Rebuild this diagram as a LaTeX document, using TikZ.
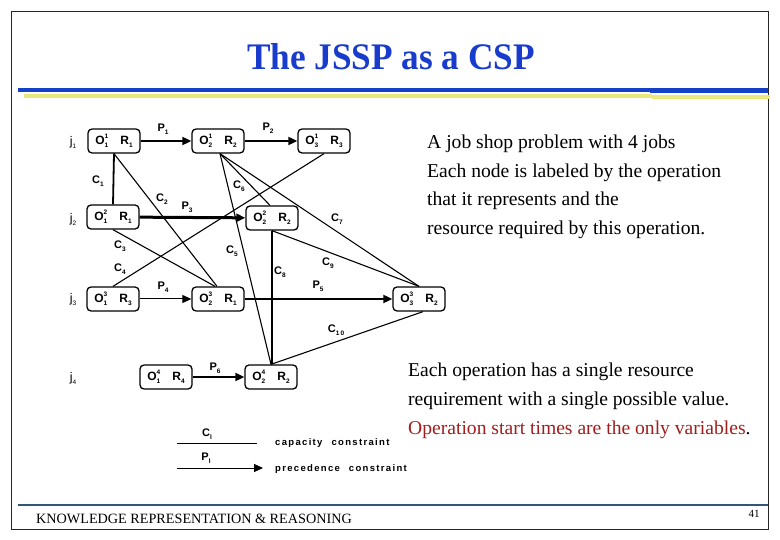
\documentclass[tikz,border=0pt]{standalone}
\usepackage{fontspec}
\setmainfont{Liberation Serif}
\setsansfont{Liberation Sans}
\usetikzlibrary{arrows.meta}
\definecolor{titleblue}{RGB}{25,60,205}
\definecolor{ruleblue}{RGB}{20,65,200}
\definecolor{ruleyellow}{RGB}{232,232,125}
\definecolor{footblue}{RGB}{52,85,122}
\definecolor{darkred}{RGB}{160,30,30}
\newcommand{\opO}[2]{O\makebox[0pt][l]{\raisebox{6pt}{\fontsize{6.5}{6.5}\selectfont #1}}\raisebox{-3pt}{\fontsize{6.5}{6.5}\selectfont #2}}
\newcommand{\resR}[1]{R\raisebox{-3pt}{\fontsize{6.5}{6.5}\selectfont #1}}
\newcommand{\lbl}[2]{#1\raisebox{-3pt}{\fontsize{6.5}{6.5}\selectfont #2}}
\begin{document}
\begin{tikzpicture}[x=1pt,y=-1pt,
  opbox/.style={draw, line width=1.3pt, rounded corners=4pt, minimum width=52pt,
    minimum height=24pt, inner sep=0pt, font=\fontsize{12}{13}\sffamily\bfseries},
  jlab/.style={font=\fontsize{12.5}{13}\sffamily, inner sep=0pt},
  elab/.style={font=\fontsize{11}{12}\sffamily\bfseries, inner sep=0pt},
  capline/.style={line width=1.1pt},
  prec/.style={-{Triangle[length=9pt,width=8pt]}, line width=1.8pt},
  legtxt/.style={font=\fontsize{9.5}{11}\sffamily\bfseries\addfontfeature{LetterSpace=14}, inner sep=0pt, anchor=base west},
  bodytxt/.style={font=\fontsize{19.6}{22}\selectfont, inner sep=0pt, anchor=base west}
]
\useasboundingbox (0,0) rectangle (780,540);
\fill[white] (0,0) rectangle (780,540);
\draw[line width=0.8pt, black!85] (11,11) rectangle (768,529);

% title and rules
\node[font=\fontsize{37.5}{40}\bfseries, text=titleblue, anchor=base, inner sep=0pt] (title) at (391,70) {\scalebox{0.94}[1]{The JSSP as a CSP}};
\fill[ruleblue] (18,88) rectangle (650,92);
\fill[ruleblue] (650,88.5) rectangle (768,93.5);
\fill[ruleyellow] (24,94) rectangle (652,98);
\fill[ruleyellow] (652,95.5) rectangle (770,99.5);

% nodes
\node[opbox] (o11) at (114,141) {\opO11\hspace{12pt}\resR1};
\node[opbox] (o21) at (218,141) {\opO12\hspace{12pt}\resR2};
\node[opbox] (o31) at (324,141) {\opO13\hspace{12pt}\resR3};
\node[opbox] (o12) at (113,217) {\opO21\hspace{12pt}\resR1};
\node[opbox] (o22) at (272,218) {\opO22\hspace{12pt}\resR2};
\node[opbox] (o13) at (113,299) {\opO31\hspace{12pt}\resR3};
\node[opbox] (o23) at (218,299) {\opO32\hspace{12pt}\resR1};
\node[opbox] (o33) at (419,299) {\opO33\hspace{12pt}\resR2};
\node[opbox] (o14) at (166,377) {\opO41\hspace{12pt}\resR4};
\node[opbox] (o24) at (271,377) {\opO42\hspace{12pt}\resR2};

% job labels
\node[jlab] (j1) at (73,142) {\lbl{j}{1}};
\node[jlab] (j2) at (73,219) {\lbl{j}{2}};
\node[jlab] (j3) at (73,300) {\lbl{j}{3}};
\node[jlab] (j4) at (73,378) {\lbl{j}{4}};

% precedence constraints
\draw[prec] (o11) -- (o21);
\draw[prec] (o21) -- (o31);
\draw[prec, line width=3pt] (o12) -- (o22);
\draw[prec, line width=1pt] (o13) -- (o23);
\draw[prec] (o23) -- (o33);
\draw[prec] (o14) -- (o24);
\node[elab] (p1) at (163,129) {\lbl{P}{1}};
\node[elab] (p2) at (268,128) {\lbl{P}{2}};
\node[elab] (p3) at (187,207) {\lbl{P}{3}};
\node[elab] (p4) at (163,287) {\lbl{P}{4}};
\node[elab] (p5) at (318,286) {\lbl{P}{5}};
\node[elab] (p6) at (215,368) {\lbl{P}{6}};

% capacity constraints
\draw[capline, line width=1.8pt] (o11.south) -- (o12.north);
\draw[capline] (o11.south) -- ([xshift=-1pt]o23.north);
\draw[capline] (o12.south) -- ([xshift=-3pt]o23.north);
\draw[capline] (o13.north) -- (o31.south);
\draw[capline] ([xshift=2pt]o21.south) -- (o24.north);
\draw[capline] ([xshift=2pt]o21.south) -- ([xshift=-2pt]o22.north);
\draw[capline] ([xshift=2pt]o21.south) -- (o33.north);
\draw[capline] (o22.south) -- (o22.south |- o24.north);
\draw[capline] (o22.south) -- (o33.north);
\draw[capline] (o24.north) -- ([xshift=4pt]o33.south);
\node[elab] (c1) at (98,181) {\lbl{C}{1}};
\node[elab] (c2) at (162,199) {\lbl{C}{2}};
\node[elab] (c3) at (120,246) {\lbl{C}{3}};
\node[elab] (c4) at (120,269) {\lbl{C}{4}};
\node[elab] (c5) at (232,251) {\lbl{C}{5}};
\node[elab] (c6) at (239,186) {\lbl{C}{6}};
\node[elab] (c7) at (337,219) {\lbl{C}{7}};
\node[elab] (c8) at (280,272) {\lbl{C}{8}};
\node[elab] (c9) at (328,263) {\lbl{C}{9}};
\node[elab] (c10) at (336,330) {\lbl{C}{1\,0}};

% legend
\coordinate (lc1) at (177,443);
\coordinate (lc2) at (257,443);
\coordinate (lp1) at (177,468);
\coordinate (lp2) at (263,468);
\draw[line width=1pt] (lc1) -- (lc2);
\draw[-{Triangle[length=9pt,width=8pt]}, line width=1pt] (lp1) -- (lp2);
\node[elab] (lci) at (207,434) {\lbl{C}{l}};
\node[elab] (lpi) at (206,458) {\lbl{P}{l}};
\node[legtxt] (capt) at (275,446) {capacity\hspace{9pt}constraint};
\node[legtxt] (prect) at (275,471) {precedence\hspace{9pt}constraint};

% body text
\node[bodytxt] (t1) at (427,149) {A job shop problem with 4 jobs};
\node[bodytxt] (t2) at (427,178) {Each node is labeled by the operation};
\node[bodytxt] (t3) at (427,206) {that it represents and the};
\node[bodytxt] (t4) at (427,235) {resource required by this operation.};
\node[bodytxt] (t5) at (408,377) {Each operation has a single resource};
\node[bodytxt] (t6) at (408,406) {requirement with a single possible value.};
\node[bodytxt] (t7) at (408,435) {\textcolor{darkred}{Operation start times are the only variables}.};

% footer
\draw[footblue, line width=2pt] (18,505) -- (768,505);
\node[font=\fontsize{14.2}{15}\selectfont, anchor=base west, inner sep=0pt] (foot) at (36,523.5) {KNOWLEDGE REPRESENTATION \& REASONING};
\node[font=\fontsize{11}{12}\selectfont, anchor=base, inner sep=0pt] (pg) at (754,517) {41};
\end{tikzpicture}
\end{document}
